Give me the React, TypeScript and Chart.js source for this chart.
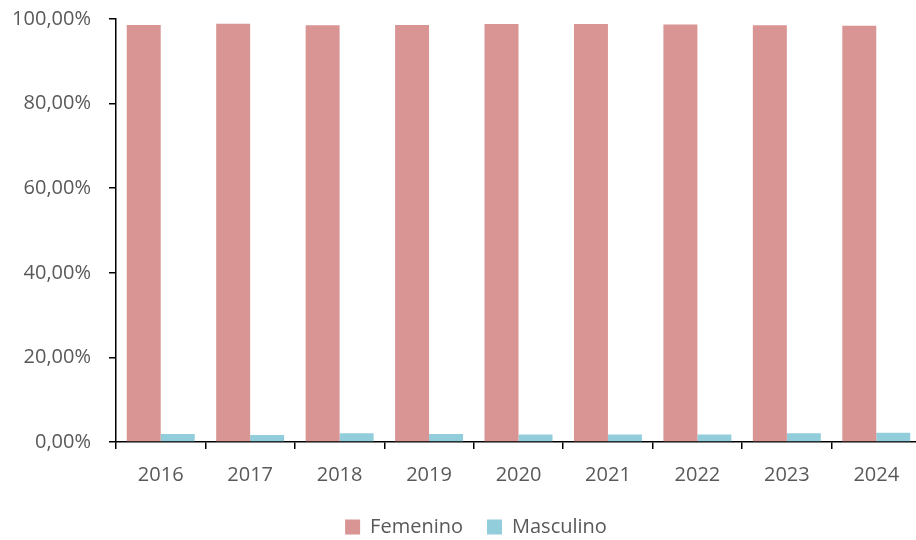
import React, { useEffect, useRef } from "react";
import { Chart, registerables } from "chart.js";

Chart.register(...registerables);

const categories = ["2016", "2017", "2018", "2019", "2020", "2021", "2022", "2023", "2024"];
const femenino = [98.6, 98.9, 98.5, 98.6, 98.8, 98.8, 98.7, 98.5, 98.4];
const masculino = [1.9, 1.65, 2.05, 1.9, 1.75, 1.75, 1.8, 2.05, 2.2];
const yTicks = [0, 20, 40, 60, 80, 100];

const FONT = "'Open Sans', 'Liberation Sans', sans-serif";
const TEXT = "#595959";
const fmt = (v: number) => v.toFixed(2).replace(".", ",") + "%";

export default function App() {
  const ref = useRef<HTMLCanvasElement | null>(null);

  useEffect(() => {
    document.documentElement.style.overflow = "hidden";
    document.body.style.margin = "0";
    const canvas = ref.current;
    if (!canvas) return;
    const mctx = document.createElement("canvas").getContext("2d")!;
    mctx.font = "20px " + FONT;
    const widest = Math.max(...yTicks.map((v) => mctx.measureText(fmt(v)).width));
    const chart = new Chart(canvas, {
      type: "bar",
      data: {
        labels: categories,
        datasets: [
          {
            label: "Femenino",
            data: femenino,
            backgroundColor: "#D99594",
            borderWidth: 0,
            categoryPercentage: 0.76,
            barPercentage: 1,
          },
          {
            label: "Masculino",
            data: masculino,
            backgroundColor: "#92CDDC",
            borderWidth: 0,
            categoryPercentage: 0.76,
            barPercentage: 1,
          },
        ],
      },
      options: {
        responsive: false,
        animation: false,
        devicePixelRatio: 1,
        layout: { padding: { left: 31, right: 9, top: 19, bottom: 0 } },
        plugins: {
          tooltip: { enabled: false },
          legend: {
            position: "bottom",
            labels: {
              boxWidth: 15,
              boxHeight: 15,
              padding: 24,
              color: TEXT,
              font: { family: FONT, size: 20 },
            },
          },
        },
        scales: {
          x: {
            grid: {
              display: true,
              drawOnChartArea: false,
              drawTicks: true,
              tickLength: 7,
              color: "#000000",
              lineWidth: 1.5,
              offset: true,
            },
            border: { display: true, color: "#000000", width: 1.5 },
            ticks: {
              color: TEXT,
              padding: 14,
              font: { family: FONT, size: 20 },
              maxRotation: 0,
            },
            afterFit: (s: any) => {
              s.height = 51;
            },
          },
          y: {
            min: 0,
            max: 100,
            afterBuildTicks: (s: any) => {
              s.ticks = yTicks.map((v) => ({ value: v }));
            },
            grid: {
              display: true,
              drawOnChartArea: false,
              drawTicks: true,
              tickLength: 7,
              color: "#000000",
              lineWidth: 1.5,
            },
            border: { display: true, color: "#000000", width: 1.5 },
            ticks: {
              color: TEXT,
              mirror: true,
              crossAlign: "far",
              padding: -25 - widest,
              font: { family: FONT, size: 20 },
              callback: (v: any) => fmt(Number(v)),
            },
            afterFit: (s: any) => {
              s.width = 85;
            },
          },
        },
      },
    });
    return () => chart.destroy();
  }, []);

  return (
    <div style={{ position: "absolute", left: 0, top: 0, width: 930, height: 547 }}>
      <canvas ref={ref} width={930} height={547} style={{ display: "block" }} />
    </div>
  );
}
